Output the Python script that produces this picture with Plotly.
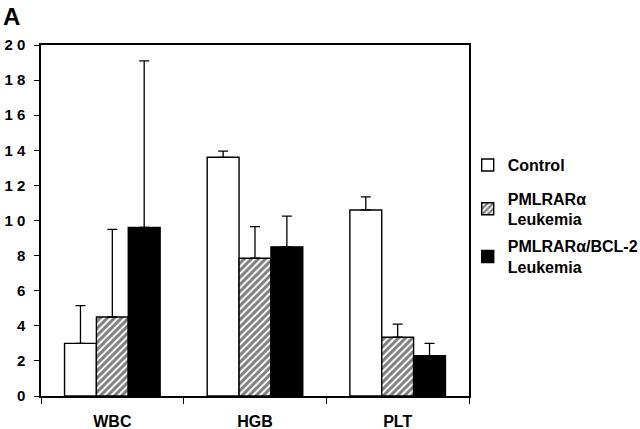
import plotly.graph_objects as go

categories = ["WBC", "HGB", "PLT"]
series_names = ["Control", "PMLRARα<br>Leukemia", "PMLRARα/BCL-2<br>Leukemia"]
control = [3.0, 13.6, 10.6]
control_err = [2.15, 0.35, 0.75]
pml = [4.5, 7.85, 3.35]
pml_err = [5.0, 1.8, 0.75]
pml_bcl = [9.6, 8.5, 2.3]
pml_bcl_err = [9.5, 1.75, 0.7]
y_tickvals = [0, 2, 4, 6, 8, 10, 12, 14, 16, 18, 20]
y_ticktext = ["0", "2", "4", "6", "8", "1 0", "1 2", "1 4", "1 6", "1 8", "2 0"]

FONT = "Liberation Sans, Arial, sans-serif"

fig = go.Figure()

def err(vals):
    return dict(type="data", array=vals, arrayminus=[0] * len(vals), symmetric=False,
                color="black", thickness=1.3, width=5)

fig.add_trace(go.Bar(x=categories, y=control, name=series_names[0], error_y=err(control_err),
                     legend="legend",
                     marker=dict(color="white", line=dict(color="black", width=1.4))))
fig.add_trace(go.Bar(x=categories, y=pml, name=series_names[1], error_y=err(pml_err),
                     legend="legend2",
                     marker=dict(color="white", line=dict(color="black", width=1.4),
                                 pattern=dict(shape="/", fgcolor="black", bgcolor="white",
                                              size=5, solidity=0.6))))
fig.add_trace(go.Bar(x=categories, y=pml_bcl, name=series_names[2], error_y=err(pml_bcl_err),
                     legend="legend3",
                     marker=dict(color="black", line=dict(color="black", width=1.4))))

def leg(yc):
    return dict(x=0.997, y=yc, xanchor="left", yanchor="middle",
                font=dict(family=FONT, size=16, weight="bold"),
                itemwidth=30, bgcolor="rgba(0,0,0,0)")

fig.update_layout(
    width=640, height=429,
    margin=dict(l=41, r=171, t=45, b=33, autoexpand=False),
    paper_bgcolor="white", plot_bgcolor="white",
    barmode="group", bargap=0.33, bargroupgap=0,
    font=dict(family=FONT, size=16, color="black", weight="bold"),
    showlegend=True,
    legend=leg(0.658),
    legend2=leg(0.533),
    legend3=leg(0.397),
    annotations=[dict(text="A", x=0, y=1, xref="paper", yref="paper",
                      xshift=-40, yshift=44, xanchor="left", yanchor="top",
                      showarrow=False, font=dict(family=FONT, size=24, weight="bold"))],
)
fig.update_xaxes(showline=True, linecolor="black", linewidth=1.5, mirror=True,
                 ticks="outside", ticklen=6, tickwidth=1.3, tickcolor="black",
                 tickson="boundaries", showgrid=False, automargin=False,
                 ticklabelstandoff=10,
                 tickfont=dict(family=FONT, size=16, weight="bold"))
fig.update_yaxes(range=[0, 20], showline=True, linecolor="black", linewidth=1.5, mirror=True,
                 ticks="outside", ticklen=5, tickwidth=1.3, tickcolor="black",
                 tickvals=y_tickvals, ticktext=y_ticktext, showgrid=False, zeroline=False,
                 automargin=False, ticklabelstandoff=6,
                 tickfont=dict(family=FONT, size=15, weight="bold"))

fig.write_html("out.html", config={"displayModeBar": False},
               post_script="document.body.style.margin='0';")
